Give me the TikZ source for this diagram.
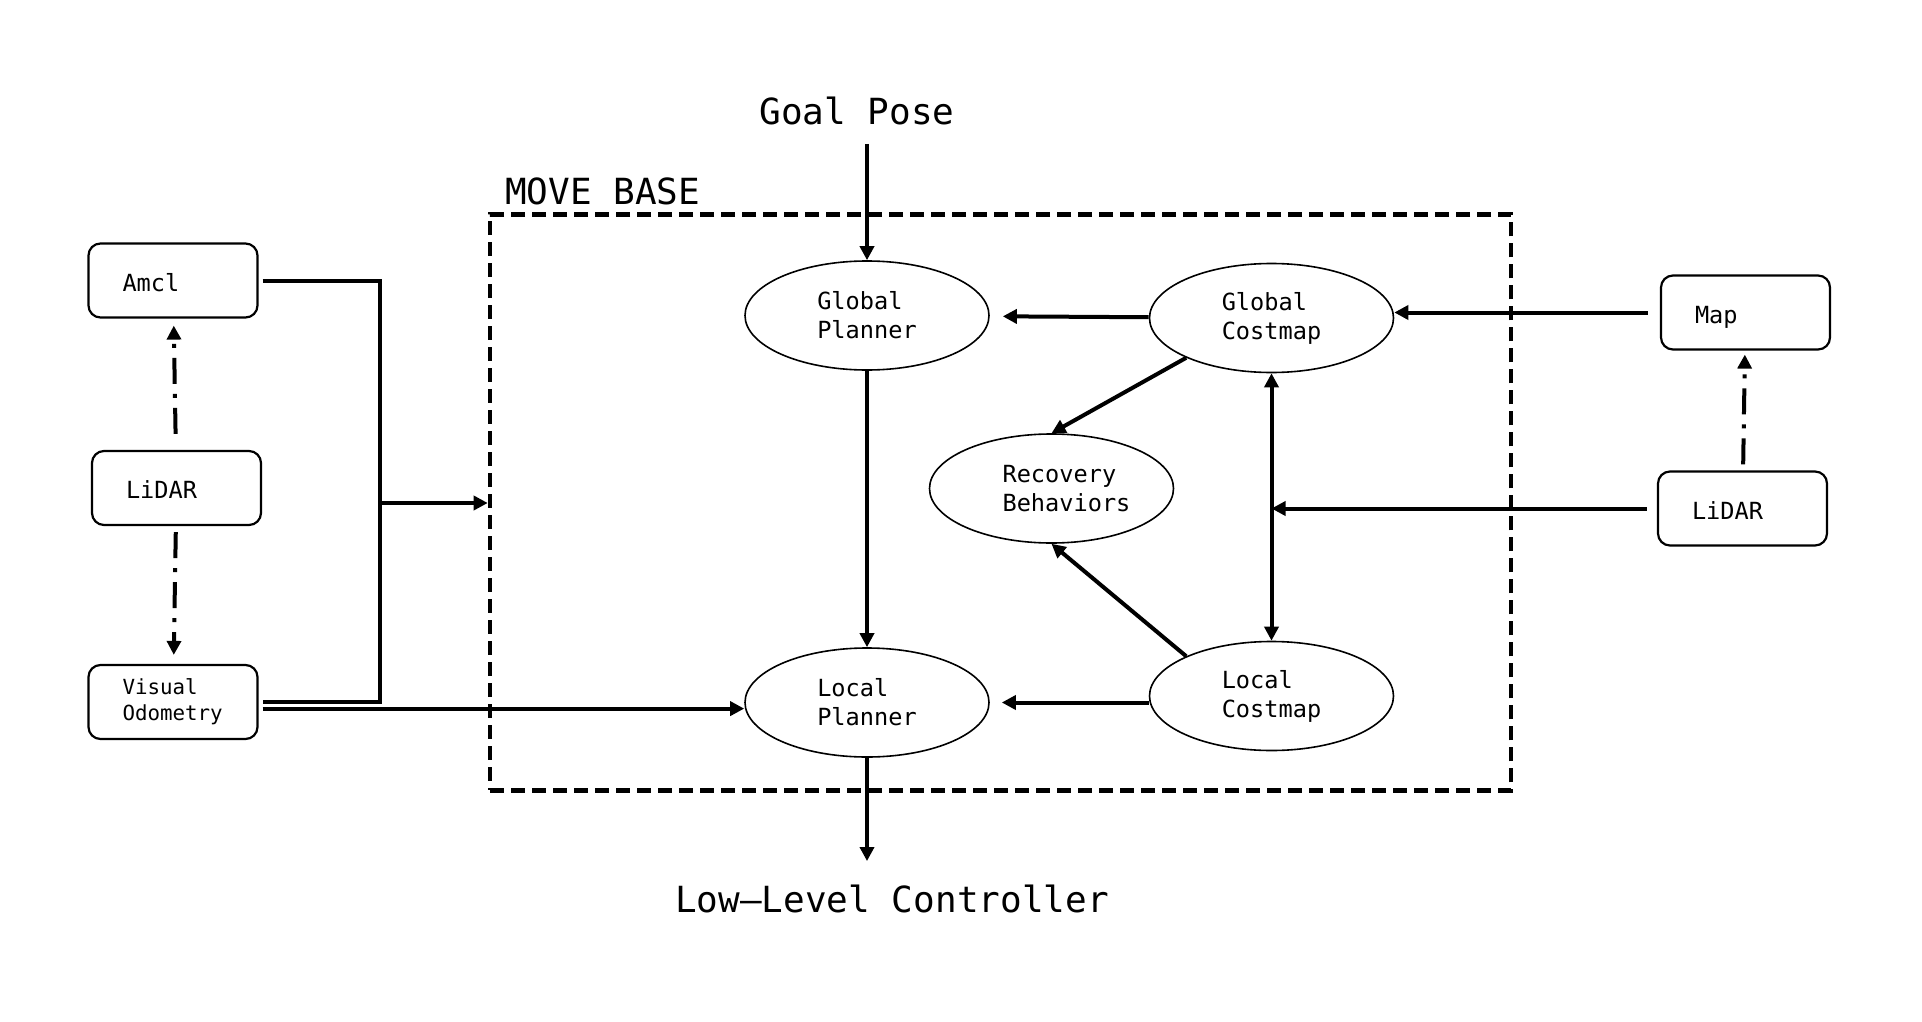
\documentclass[tikz,border=0pt]{standalone}
\usepackage{fontspec}
\setmainfont{DejaVu Sans Mono}
\usetikzlibrary{shapes.geometric,arrows.meta}

\begin{document}
\begin{tikzpicture}[x=0.5pt,y=-0.5pt,
		>={Triangle[length=7pt,width=7pt]},
		box/.style={draw,line width=1.1pt,rounded corners=6pt,minimum height=37pt,text width=50.5pt,inner xsep=17pt,align=left,text height=10.5pt,text depth=0pt,font=\fontsize{11.8}{14.5}\selectfont},
		blob/.style={draw,ellipse,line width=0.8pt,minimum width=122pt,minimum height=54.5pt,inner sep=0pt,align=left,font=\fontsize{11.8}{14.5}\selectfont},
		big/.style={font=\fontsize{18}{22}\selectfont,inner sep=0pt},
		link/.style={line width=2pt,->},
		feed/.style={line width=2pt,dash pattern=on 13pt off 5pt on 2pt off 5pt,->}]
		\useasboundingbox (0,0) rectangle (1922,1022);

		\node[draw,line width=2.3pt,dash pattern=on 7pt off 3.5pt,minimum width=510.5pt,minimum height=288pt,inner sep=0pt] (mb) at (1000.5,502.25) {};
		\node[big,anchor=base west] (mbname) at ([xshift=8.5pt,yshift=3.5pt]mb.north west) {MOVE BASE};
		\node[big,anchor=base] (goal) at (857,125) {Goal Pose};
		\node[big,anchor=base] (llc) at (892,912) {Low--Level Controller};

		\node[box] (amcl) at (173,280.5) {Amcl};
		\node[box] (lidl) at (176.5,488) {LiDAR};
		\node[box,text height=,text depth=,font=\fontsize{10.4}{13}\selectfont] (vo) at (173,702) {Visual\\Odometry};
		\node[box] (map) at (1745.5,312.5) {Map};
		\node[box] (lidr) at (1742.5,508.5) {LiDAR};

		\node[blob] (gp) at (867,315.5) {Global\\Planner};
		\node[blob] (gc) at (1271.5,318) {Global\\Costmap};
		\node[blob] (rec) at (1051.5,488.5) {\hspace*{15pt}Recovery\\\hspace*{15pt}Behaviors};
		\node[blob] (lp) at (867,702.5) {Local\\Planner};
		\node[blob] (lc) at (1271.5,696) {Local\\Costmap};

		\coordinate (jn) at (380,503);

		\draw[link,shorten <=9pt] (goal.south -| gp.north) -- (gp.north);
		\draw[link] (gp) -- (lp);
		\draw[link,shorten >=11.5pt] (lp.south) -- (lp.south |- llc.north);
		\draw[link,shorten >=6.5pt] (gc) -- (gp);
		\draw[link] (gc.205) -- (rec.north);
		\draw[link] (lc.155) -- (rec.south);
		\draw[link,shorten >=6pt] (lp -| lc.west) -- (lp.east);
		\draw[line width=2pt,<->] (gc) -- (lc);
		\draw[link,shorten <=6pt] (map.west) -- (map.west -| gc.east);
		\draw[link,shorten <=5pt] (lidr.west) -- (lidr.west -| gc.south);

		\draw[line width=2pt,shorten <=2pt,shorten >=2pt] (amcl.east) -| (jn) |- (vo.east);
		\draw[link] (jn) -- (jn -| mb.west);
		\draw[link,shorten <=2pt] ([yshift=-3.3pt]vo.east) -- ([yshift=-3.3pt]vo.east -| lp.west);

		\draw[feed,shorten <=8pt,shorten >=3.5pt] (lidl) -- (amcl);
		\draw[feed,shorten <=3pt,shorten >=4.5pt] (lidl) -- (vo);
		\draw[feed,shorten <=3pt,shorten >=2pt] (lidr) -- (map);
	\end{tikzpicture}
\end{document}
